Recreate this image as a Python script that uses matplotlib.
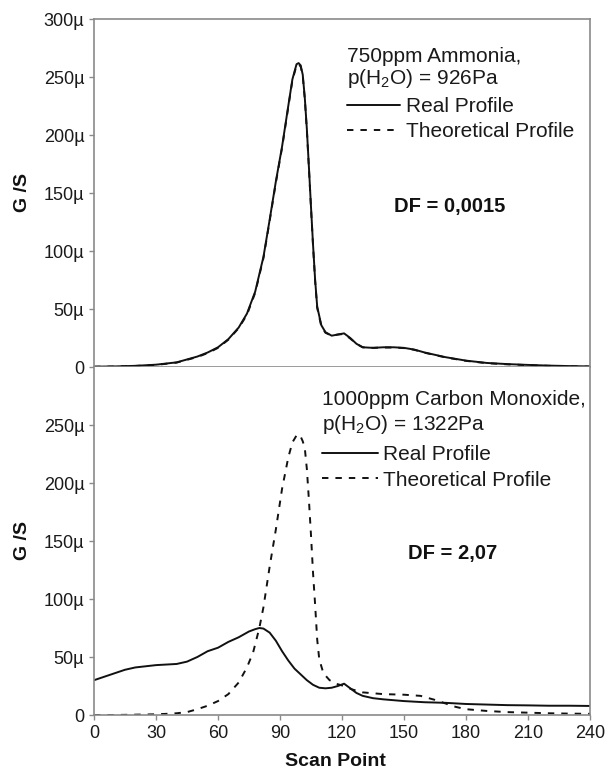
import matplotlib
matplotlib.use("Agg")
import matplotlib.pyplot as plt
from matplotlib.ticker import FuncFormatter, FixedLocator

plt.rcParams["font.family"] = ["Liberation Sans", "DejaVu Sans"]
plt.rcParams["mathtext.fontset"] = "custom"
plt.rcParams["mathtext.rm"] = "Liberation Sans"
plt.rcParams["mathtext.it"] = "Liberation Sans"
plt.rcParams["mathtext.bf"] = "Liberation Sans:bold"

# --- Ammonia (upper panel), conductance in µS ---
nh3_scan = [0, 10, 20, 30, 40, 50, 55, 60, 65, 70, 74, 78, 82, 85, 88, 91, 94, 96,
            98, 99, 100, 101, 102, 103, 104, 105, 106, 107, 108, 110, 112, 115,
            118, 121, 124, 127, 130, 135, 140, 145, 150, 155, 160, 170, 180, 190,
            200, 210, 220, 230, 240]
nh3_real = [0.3, 0.5, 1, 2, 4, 9, 12.5, 17, 24, 34, 46, 65, 95, 127, 160, 190, 225, 248,
            261, 262, 260, 252, 232, 205, 172, 138, 105, 75, 52, 36, 30, 27,
            28, 29, 25, 20, 17, 16.5, 17, 17, 16.5, 15, 12.5, 8.5, 5.5, 3.5,
            2.5, 1.8, 1.2, 0.8, 0.5]
nh3_theo = [0.2, 0.4, 0.9, 1.8, 3.8, 8.6, 12, 16.5, 23.5, 33.5, 45, 64, 94, 126, 159, 189, 224, 247,
            260, 261, 259, 251, 231, 204, 171, 137, 104, 74, 51, 35, 29.5, 27,
            28, 28.5, 24.5, 20, 17, 16.5, 16.8, 16.8, 16.3, 14.8, 12.3, 8.3, 5.3, 3.3,
            2.3, 1.6, 1.0, 0.6, 0.3]

# --- Carbon monoxide (lower panel), conductance in µS ---
co_scan_real = [0, 5, 10, 15, 20, 25, 30, 35, 40, 45, 50, 55, 60, 65, 70, 75, 78, 80,
                82, 85, 88, 91, 94, 97, 100, 103, 106, 109, 112, 115, 118, 121, 124,
                127, 130, 135, 140, 150, 160, 170, 180, 190, 200, 210, 220, 230, 240]
co_real = [30, 33, 36, 39, 41, 42, 43, 43.5, 44, 46, 50, 55, 58, 63, 67, 72, 74, 75,
           74.5, 71, 64, 55, 47, 40, 35, 30, 26, 23.5, 23, 23.5, 25, 27, 23,
           19, 16.5, 14.5, 13.5, 12, 11, 10.5, 9.5, 9, 8.5, 8.3, 8, 8, 7.8]
co_scan_theo = [0, 10, 20, 30, 35, 40, 45, 50, 55, 60, 65, 70, 74, 77, 80, 82, 85, 88,
                91, 94, 96, 98, 99, 100, 101, 102, 103, 104, 105, 106, 107, 108, 109,
                111, 114, 117, 120, 125, 130, 140, 150, 158, 165, 170, 175, 180, 190,
                200, 210, 220, 230, 240]
co_theo = [0, 0, 0.3, 0.6, 1, 1.5, 2.5, 5, 8, 12, 18, 28, 41, 54, 75, 93, 128, 160,
           195, 222, 235, 241, 242, 240, 236, 230, 212, 185, 155, 122, 95, 65, 48,
           36, 30, 27, 25.5, 22, 19.5, 18, 17.5, 16.5, 13, 10, 7, 5, 3.5,
           2.5, 2, 1.5, 1.2, 1]

x_ticks = [0, 30, 60, 90, 120, 150, 180, 210, 240]
y_ticks_top = [0, 50, 100, 150, 200, 250, 300]
y_ticks_bottom = [0, 50, 100, 150, 200, 250]

panels = [
    dict(real=(nh3_scan, nh3_real), theo=(nh3_scan, nh3_theo),
         line1="750ppm Ammonia,", line2="p(H$_2$O) = 926Pa", df="DF = 0,0015"),
    dict(real=(co_scan_real, co_real), theo=(co_scan_theo, co_theo),
         line1="1000ppm Carbon Monoxide,", line2="p(H$_2$O) = 1322Pa", df="DF = 2,07"),
]

W, H = 606, 770
fig = plt.figure(figsize=(W / 100, H / 100), dpi=100)

left, right = 94, 590
top_t, top_b = 19, 367
bot_t, bot_b = 367, 715
ax_top = fig.add_axes([left / W, 1 - top_b / H, (right - left) / W, (top_b - top_t) / H])
ax_bot = fig.add_axes([left / W, 1 - bot_b / H, (right - left) / W, (bot_b - bot_t) / H])

spine_col = "#8a8a8a"
ink = "#111111"
fmt = FuncFormatter(lambda v, p: "0" if v == 0 else f"{v:.0f}µ")

text_pos = [
    dict(tx=0.510, l1=0.876, l2=0.813, leg=(0.510, 0.776), hl=2.55, htp=0.29, ls=0.29,
         df=(0.718, 0.460)),
    dict(tx=0.460, l1=0.891, l2=0.819, leg=(0.460, 0.776), hl=2.7, htp=0.2, ls=0.32,
         df=(0.724, 0.463)),
]

for ax, p, tp, yt in zip([ax_top, ax_bot], panels, text_pos, [y_ticks_top, y_ticks_bottom]):
    h_real, = ax.plot(*p["real"], color=ink, lw=1.4, solid_capstyle="round")
    h_theo, = ax.plot(*p["theo"], color=ink, lw=1.4, dashes=(3.3, 3.6))
    ax.set_xlim(0, 240)
    ax.set_ylim(0, 300)
    ax.yaxis.set_major_locator(FixedLocator(yt))
    ax.yaxis.set_major_formatter(fmt)
    for s in ax.spines.values():
        s.set_color(spine_col)
        s.set_linewidth(1.2)
    ax.tick_params(axis="y", direction="out", length=3.5, width=1.0, color=spine_col,
                   labelsize=13, labelcolor="#1a1a1a", pad=3.5)
    ax.set_ylabel("G /S", fontsize=14, fontweight="bold", color="#111111")
    ax.yaxis.set_label_coords(-0.127, 0.5)

    ax.text(tp["tx"], tp["l1"], p["line1"], transform=ax.transAxes, fontsize=15,
            va="baseline", ha="left", color="#1a1a1a")
    ax.text(tp["tx"], tp["l2"], p["line2"], transform=ax.transAxes, fontsize=15,
            va="baseline", ha="left", color="#1a1a1a")
    ax.legend([h_real, h_theo], ["Real Profile", "Theoretical Profile"],
              loc="upper left", bbox_to_anchor=tp["leg"], frameon=False, fontsize=15,
              handlelength=tp["hl"], handletextpad=tp["htp"], labelspacing=tp["ls"],
              borderpad=0, borderaxespad=0, labelcolor="#1a1a1a")
    ax.text(*tp["df"], p["df"], transform=ax.transAxes, fontsize=14.5, fontweight="bold",
            ha="center", va="center", color="#111111")

ax_top.tick_params(axis="x", bottom=False, labelbottom=False)
ax_bot.spines["top"].set_visible(False)
ax_bot.set_xticks(x_ticks)
ax_bot.tick_params(axis="x", direction="out", length=3.5, width=1.0, color=spine_col,
                   labelsize=13, labelcolor="#1a1a1a", pad=3.5)
ax_bot.set_xlabel("Scan Point", fontsize=14, fontweight="bold", color="#111111")
ax_bot.xaxis.set_label_coords(0.486, -0.108)

fig.savefig("out.png", dpi=100)
